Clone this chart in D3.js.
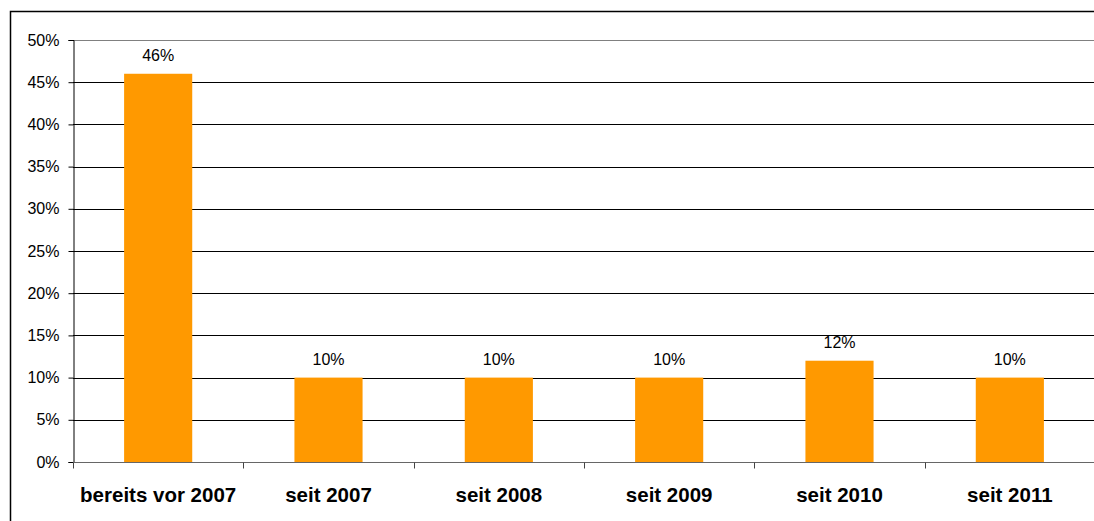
<!DOCTYPE html>
<html>
<head>
<meta charset="utf-8">
<script src="https://cdn.jsdelivr.net/npm/d3@7"></script>
<style>
  html, body { margin: 0; background: #fff; overflow: hidden; }
  svg { display: block; font-family: "Liberation Sans", Arial, sans-serif; }
</style>
</head>
<body>
<div id="chart"></div>
<script>
// chart data
var categories = ["bereits vor 2007", "seit 2007", "seit 2008", "seit 2009", "seit 2010", "seit 2011"];
var shares = [46, 10, 10, 10, 12, 10];
var yTicks = [0, 5, 10, 15, 20, 25, 30, 35, 40, 45, 50];

var width = 1094, height = 521;
var margin = {top: 40, right: -1, bottom: 59, left: 73};

var svg = d3.select("#chart").append("svg")
    .attr("width", width)
    .attr("height", height);

// outer frame - only left and top edge are inside the picture
svg.append("path")
    .attr("d", "M10.5," + height + "V11.5H" + width)
    .attr("fill", "none")
    .attr("stroke", "#000")
    .attr("stroke-width", 1.5);

var x = d3.scaleBand()
    .domain(categories)
    .range([margin.left, width - margin.right])
    .paddingInner(0.6)
    .paddingOuter(0.3);

var y = d3.scaleLinear()
    .domain([0, 50])
    .range([height - margin.bottom, margin.top]);

// gridlines
svg.append("g")
    .selectAll("line")
    .data(yTicks.filter(function(d) { return d > 0; }))
    .enter().append("line")
    .attr("x1", margin.left).attr("x2", width)
    .attr("y1", function(d) { return Math.round(y(d)) + 0.5; })
    .attr("y2", function(d) { return Math.round(y(d)) + 0.5; })
    .attr("stroke", function(d) { return d === 50 ? "#808080" : "#000"; })
    .attr("stroke-width", 1);

// y axis
var yAxis = svg.append("g")
    .attr("transform", "translate(" + (margin.left + 0.5) + ",0)")
    .call(d3.axisLeft(y).tickValues(yTicks).tickSize(5).tickPadding(9)
        .tickFormat(function(d) { return d + "%"; }));
yAxis.select(".domain").attr("stroke", "#000");
yAxis.selectAll(".tick line").attr("stroke", "#000");
yAxis.selectAll("text")
    .attr("font-size", 16)
    .attr("fill", "#000")
    .attr("font-family", "Liberation Sans, Arial, sans-serif");

// bars
svg.append("g")
    .selectAll("rect")
    .data(shares)
    .enter().append("rect")
    .attr("x", function(d, i) { return x(categories[i]); })
    .attr("y", function(d) { return y(d); })
    .attr("width", x.bandwidth())
    .attr("height", function(d) { return y(0) - y(d); })
    .attr("fill", "#FF9900");

// value labels
svg.append("g")
    .selectAll("text")
    .data(shares)
    .enter().append("text")
    .attr("x", function(d, i) { return x(categories[i]) + x.bandwidth() / 2; })
    .attr("y", function(d) { return y(d) - 13; })
    .attr("text-anchor", "middle")
    .attr("font-size", 16)
    .attr("fill", "#000")
    .text(function(d) { return d + "%"; });

// x axis (ticks between categories)
var step = x.step();
var xAxis = svg.append("g")
    .attr("transform", "translate(0," + (y(0) + 0.5) + ")");
xAxis.append("line")
    .attr("x1", margin.left).attr("x2", width)
    .attr("stroke", "#666");
xAxis.selectAll(".xtick")
    .data(d3.range(categories.length + 1))
    .enter().append("line")
    .attr("class", "xtick")
    .attr("x1", function(i) { return Math.round(margin.left + i * step) + 0.5; })
    .attr("x2", function(i) { return Math.round(margin.left + i * step) + 0.5; })
    .attr("y1", 0).attr("y2", 6)
    .attr("stroke", "#444");
xAxis.selectAll(".xlabel")
    .data(categories)
    .enter().append("text")
    .attr("class", "xlabel")
    .attr("x", function(d) { return x(d) + x.bandwidth() / 2; })
    .attr("y", 39.5)
    .attr("text-anchor", "middle")
    .attr("font-size", 20.5)
    .attr("font-weight", "bold")
    .attr("fill", "#000")
    .text(function(d) { return d; });
</script>
</body>
</html>
